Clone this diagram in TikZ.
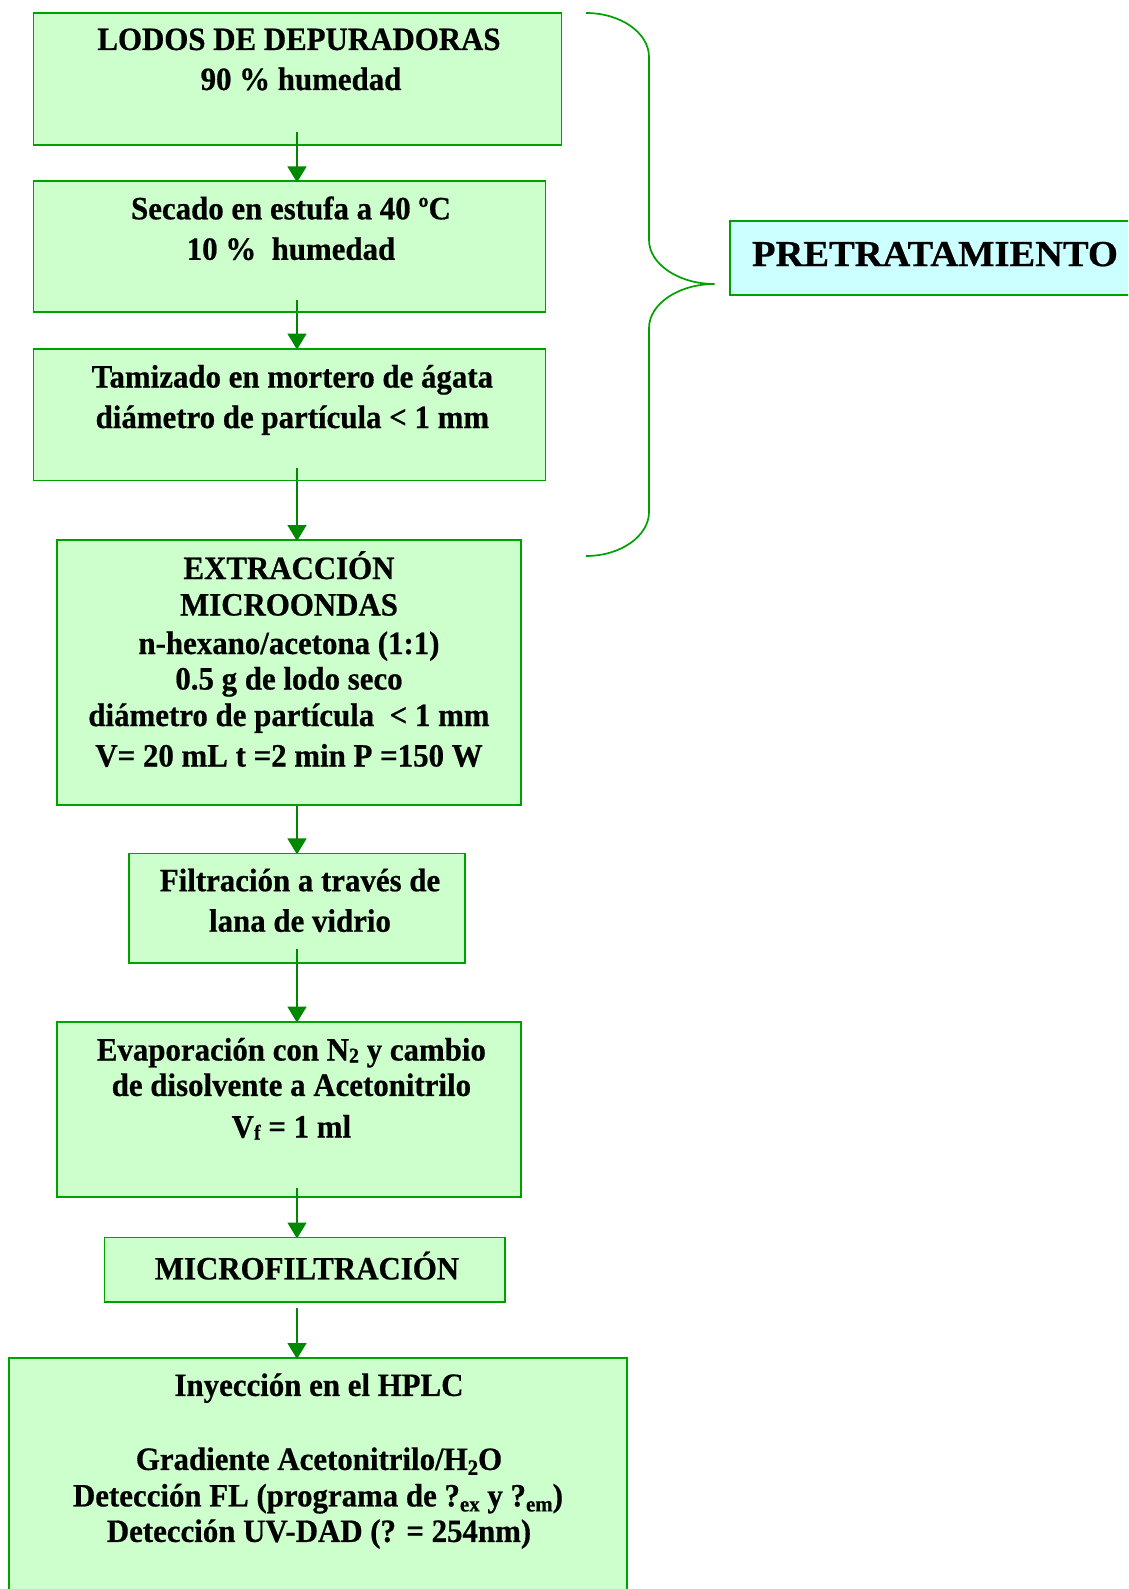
\documentclass[tikz,border=0pt]{standalone}
\usepackage{fontspec}
\setmainfont{Liberation Serif}[FakeStretch=0.95,FakeBold=0.6]
\newfontfamily\pfont{Liberation Serif}[FakeStretch=1.055,FakeBold=0.6]
\usetikzlibrary{arrows.meta}
\definecolor{boxfill}{HTML}{CCFFCC}
\definecolor{cyanfill}{HTML}{CCFFFF}
\definecolor{boxline}{HTML}{00A000}
\definecolor{arrgreen}{HTML}{008800}
\newcommand{\smsub}[1]{\raisebox{-2pt}{\fontsize{21}{21}\selectfont #1}}
\newcommand{\lowsub}[1]{\raisebox{-5pt}{\fontsize{22}{22}\selectfont #1}}
\begin{document}
\begin{tikzpicture}[x=1pt,y=-1pt,
  box/.style={draw=boxline, fill=boxfill, line width=1.8pt, anchor=north west, inner sep=0pt, outer sep=0pt},
  txt/.style={anchor=base, inner sep=0pt, font=\fontsize{32.5}{38}\selectfont\bfseries},
  bigtxt/.style={anchor=base, inner sep=0pt, font=\pfont\fontsize{36.5}{42}\selectfont\bfseries},
  arr/.style={draw=arrgreen, line width=1.5pt, -{Triangle[width=19pt,length=16pt]}},
  brace/.style={draw=boxline, line width=1.7pt}]
\useasboundingbox (0,0) rectangle (1128,1589);
\clip (0,0) rectangle (1128,1589);
% boxes
\node[box, minimum width=528pt, minimum height=132pt] (b1) at (33.4,13) {};
\node[box, minimum width=512pt, minimum height=130.6pt] (b2) at (33.4,181.4) {};
\node[box, minimum width=512pt, minimum height=131.8pt] (b3) at (33.4,348.6) {};
\node[box, minimum width=464.2pt, minimum height=264.7pt] (b4) at (56.8,540) {};
\node[box, minimum width=336.5pt, minimum height=109.4pt] (b5) at (128.7,853.4) {};
\node[box, minimum width=464.2pt, minimum height=175.3pt] (b6) at (56.8,1021.6) {};
\node[box, minimum width=400.3pt, minimum height=64.8pt] (b7) at (104.4,1237.5) {};
\node[box, minimum width=618.2pt, minimum height=300pt] (b8) at (9.1,1358) {};
\node[box, fill=cyanfill, minimum width=420pt, minimum height=74pt] (bp) at (729.7,221) {};
% texts
\node[txt] (t1a) at (299,50) {LODOS DE DEPURADORAS};
\node[txt] (t1b) at (301,90) {90 \% humedad};
\node[txt] (t2a) at (291,219.3) {Secado en estufa a 40 ºC};
\node[txt] (t2b) at (291,259.8) {10 \%\ \ humedad};
\node[txt] (t3a) at (292.4,387.5) {Tamizado en mortero de ágata};
\node[txt] (t3b) at (292.4,428) {diámetro de partícula < 1 mm};
\node[txt] (t4a) at (289,579) {EXTRACCIÓN};
\node[txt] (t4b) at (289,615.5) {MICROONDAS};
\node[txt] (t4c) at (289,654) {n-hexano/acetona (1:1)};
\node[txt] (t4d) at (289,689.5) {0.5 g de lodo seco};
\node[txt] (t4e) at (289,726) {diámetro de partícula\ \ < 1 mm};
\node[txt] (t4f) at (289,766.5) {V= 20 mL t =2 min P =150 W};
\node[txt] (t5a) at (300,891.2) {Filtración a través de};
\node[txt] (t5b) at (300,931.7) {lana de vidrio};
\node[txt] (t6a) at (291.4,1060.5) {Evaporación con N\smsub{2} y cambio};
\node[txt] (t6b) at (291.4,1095.9) {de disolvente a Acetonitrilo};
\node[txt] (t6c) at (291.4,1137.5) {V\smsub{f} = 1 ml};
\node[txt] (t7) at (307,1279.4) {MICROFILTRACIÓN};
\node[txt] (t8a) at (319,1395.9) {Inyección en el HPLC};
\node[txt] (t8b) at (319,1469.9) {Gradiente Acetonitrilo/H\lowsub{2}O};
\node[txt] (t8c) at (318,1506.4) {Detección FL (programa de ?\lowsub{ex} y ?\lowsub{em})};
\node[txt] (t8d) at (319,1541.9) {Detección UV-DAD (? = 254nm)};
\node[bigtxt] (tp) at (935,266) {PRETRATAMIENTO};
% arrows
\coordinate (ax) at (297,0);
\draw[arr] ([yshift=13pt]b1.south -| ax) -- ([yshift=-1pt]b2.north -| ax);
\draw[arr] ([yshift=12pt]b2.south -| ax) -- ([yshift=-1pt]b3.north -| ax);
\draw[arr] ([yshift=12pt]b3.south -| ax) -- ([yshift=-1pt]b4.north -| ax);
\draw[arr] (b4.south -| ax) -- ([yshift=-1pt]b5.north -| ax);
\draw[arr] ([yshift=14pt]b5.south -| ax) -- ([yshift=-1pt]b6.north -| ax);
\draw[arr] ([yshift=9pt]b6.south -| ax) -- ([yshift=-1pt]b7.north -| ax);
\draw[arr] ([yshift=-6pt]b7.south -| ax) -- ([yshift=-1pt]b8.north -| ax);
% brace
\coordinate (brtop) at (586,13);
\coordinate (brtip) at (714.5,284);
\coordinate (brbot) at (586,556);
\draw[brace] (brtop) .. controls (620.7,13) and (649,32.8) .. (649,57)
  -- (649,240) .. controls (649,264) and (678.5,284) .. (brtip)
  .. controls (678.5,284) and (649,304) .. (649,328)
  -- (649,512) .. controls (649,536) and (620.7,556) .. (brbot);
\end{tikzpicture}
\end{document}
